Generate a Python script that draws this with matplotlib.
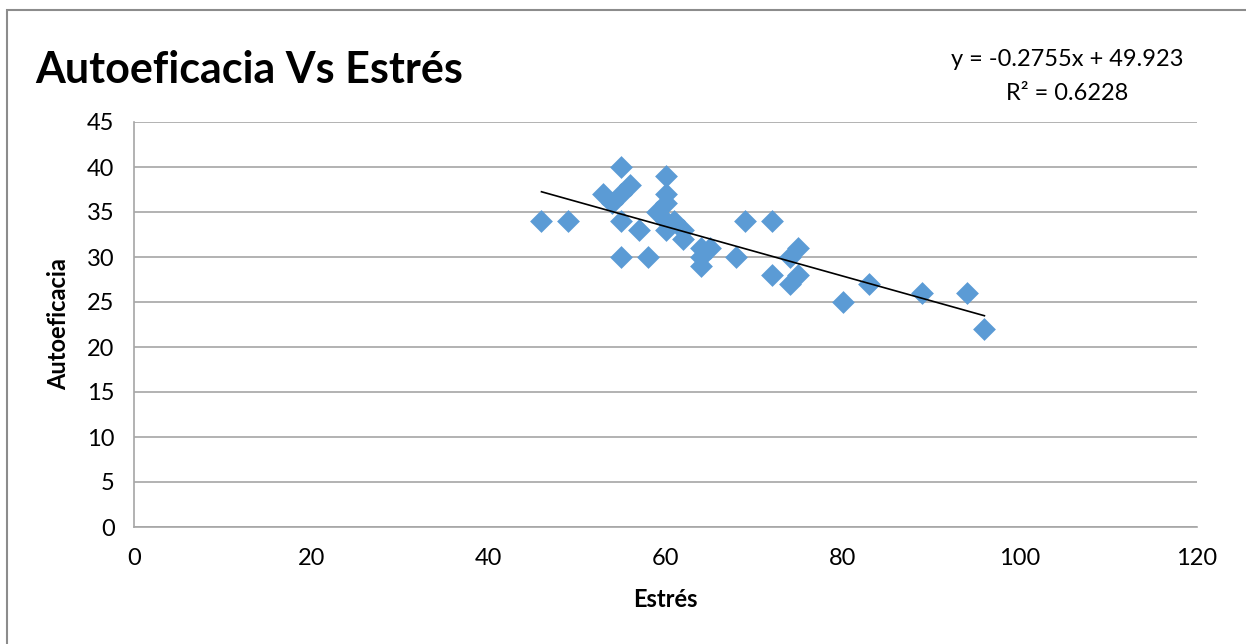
import numpy as np
import matplotlib.pyplot as plt
from matplotlib.patches import Rectangle

# Estrés (x) vs Autoeficacia (y)
estres = [46, 49, 53, 54, 55, 56, 55, 55, 55, 57, 58, 59, 60, 60, 60, 60, 60,
          61, 62, 62, 64, 65, 64, 64, 68, 69, 72, 72, 74, 75, 74, 75, 80, 83,
          89, 94, 96]
autoeficacia = [34, 34, 37, 36, 37, 38, 40, 34, 30, 33, 30, 35, 39, 37, 36, 34,
                33, 34, 33, 32, 31, 31, 30, 29, 30, 34, 34, 28, 27, 28, 30, 31,
                25, 27, 26, 26, 22]

pendiente = -0.2755
intercepto = 49.923
r2 = 0.6228

x_ticks = [0, 20, 40, 60, 80, 100, 120]
y_ticks = [0, 5, 10, 15, 20, 25, 30, 35, 40, 45]

plt.rcParams["font.family"] = ["Lato", "DejaVu Sans"]

fig = plt.figure(figsize=(12.46, 6.44), dpi=100)
ax = fig.add_axes([134 / 1246, 1 - 527 / 644, (1197 - 134) / 1246, (527 - 122) / 644])

# marco exterior del gráfico (recortado a la derecha y abajo)
fig.patches.append(Rectangle((7 / 1246, -0.1), 1.2, 1.1 - 10 / 644,
                             transform=fig.transFigure, fill=False,
                             edgecolor="#8c8c8c", linewidth=1.5))

ax.scatter(estres, autoeficacia, marker="D", s=135, color="#5B9BD5",
           linewidths=0, zorder=3)

x_fit = np.array([min(estres), max(estres)])
ax.plot(x_fit, pendiente * x_fit + intercepto, color="black", linewidth=1.2, zorder=4)

ax.set_xlim(0, 120)
ax.set_ylim(0, 45)
ax.set_xticks(x_ticks)
ax.set_yticks(y_ticks)
ax.tick_params(length=0, labelsize=17)
ax.tick_params(axis="x", pad=15)
ax.tick_params(axis="y", pad=14)
ax.grid(True, axis="y", color="#a6a6a6", linewidth=1.2)
ax.set_axisbelow(True)
for side in ["top", "right"]:
    ax.spines[side].set_visible(False)
for side in ["left", "bottom"]:
    ax.spines[side].set_color("#a6a6a6")
    ax.spines[side].set_linewidth(1.2)

ax.set_xlabel("Estrés", fontsize=17, fontweight="bold", labelpad=14)
ax.set_ylabel("Autoeficacia", fontsize=17, fontweight="bold", labelpad=12)

fig.text(35 / 1246, 1 - 70 / 644, "Autoeficacia Vs Estrés", fontsize=31,
         fontweight="bold", va="center", ha="left")
fig.text(1067 / 1246, 1 - 60 / 644, f"y = {pendiente}x + {intercepto}",
         fontsize=17, ha="center", va="center")
fig.text(1067 / 1246, 1 - 93 / 644, f"R² = {r2}",
         fontsize=17, ha="center", va="center")

fig.savefig("out.png", dpi=100)
